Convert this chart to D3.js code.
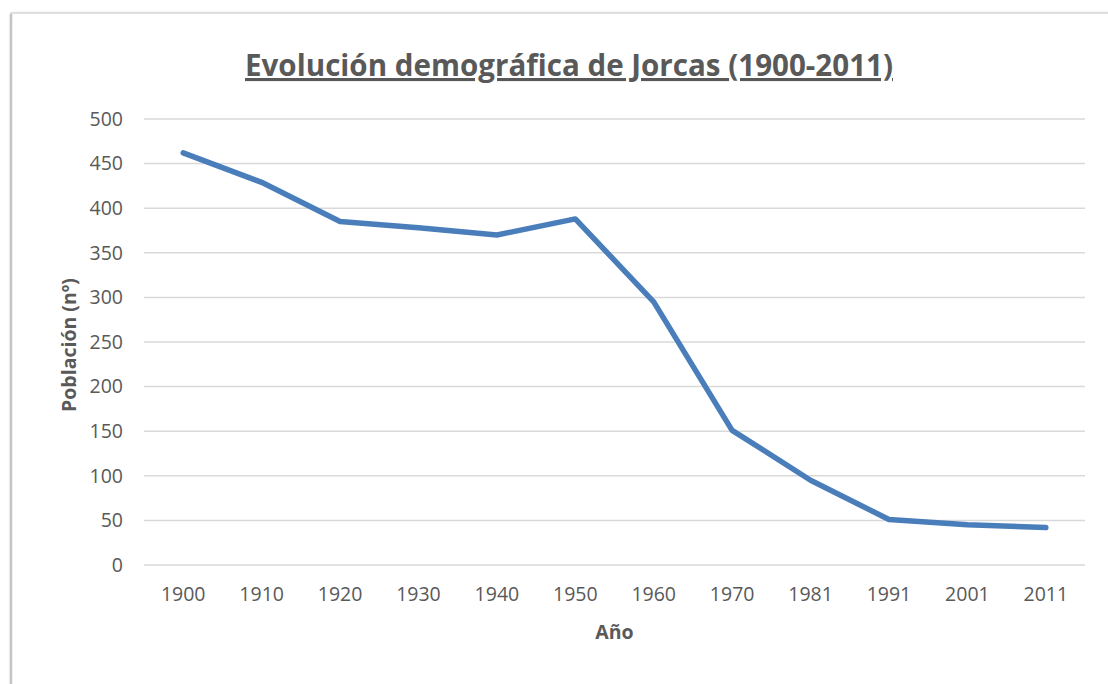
<!DOCTYPE html>
<html>
    <head>
        <meta charset="utf-8">
        <style>
            body { margin: 0; background: white; }
            text { font-family: "Open Sans", sans-serif; fill: #595959; }
            .grid line { stroke: #d9d9d9; stroke-width: 1.5; }
        </style>
    </head>
    <body>
        <div id="grafico"></div>
        <script src="https://cdn.jsdelivr.net/npm/d3@7"></script>
        <script>

//////////////////// datos ////////////////////
let anios = ['1900', '1910', '1920', '1930', '1940', '1950', '1960', '1970', '1981', '1991', '2001', '2011'];
let poblacion = [462, 429, 385, 378, 370, 388, 295, 151, 95, 51, 45, 42];
let ticks_y = [0, 50, 100, 150, 200, 250, 300, 350, 400, 450, 500];

let titulo = 'Evolución demográfica de Jorcas (1900-2011)';
let titulo_y = 'Población (nº)';
let titulo_x = 'Año';

//////////////////// tamaños ////////////////////
let W = 1108;
let H = 684;
let plot = { left: 144, right: 1085, top: 119, bottom: 565 };

let svg = d3.select('#grafico').append('svg')
    .attr('width', W)
    .attr('height', H);

// sombra del borde
let defs = svg.append('defs');
let filtro = defs.append('filter').attr('id', 'sombra')
    .attr('x', '-5%').attr('y', '-5%').attr('width', '110%').attr('height', '110%');
filtro.append('feDropShadow')
    .attr('dx', 2).attr('dy', 2).attr('stdDeviation', 2)
    .attr('flood-color', '#000').attr('flood-opacity', 0.25);

svg.append('rect')
    .attr('x', 11).attr('y', 13)
    .attr('width', W + 20).attr('height', H + 20)
    .attr('fill', 'white')
    .attr('stroke', '#d6d6d6')
    .attr('stroke-width', 1.5)
    .attr('filter', 'url(#sombra)');

// borde izquierdo mas marcado
svg.append('line')
    .attr('x1', 11).attr('x2', 11)
    .attr('y1', 14).attr('y2', H)
    .attr('stroke', '#c4c4c4')
    .attr('stroke-width', 2.5);

//////////////////// escalas ////////////////////
let x = d3.scaleBand()
    .domain(anios)
    .range([plot.left, plot.right]);

let y = d3.scaleLinear()
    .domain([0, 500])
    .range([plot.bottom, plot.top]);

// lineas de la cuadricula
svg.append('g')
    .classed('grid', true)
    .selectAll('line')
    .data(ticks_y)
    .join('line')
    .attr('x1', plot.left)
    .attr('x2', plot.right)
    .attr('y1', (d) => y(d))
    .attr('y2', (d) => y(d));

// eje y
let eje_y = svg.append('g')
    .attr('transform', `translate(${plot.left - 21}, 0)`)
    .call(d3.axisLeft(y).tickValues(ticks_y).tickSize(0).tickPadding(0));
eje_y.select('.domain').remove();
eje_y.selectAll('text')
    .attr('font-size', 19.5)
    .attr('font-family', '"Open Sans", sans-serif')
    .attr('fill', '#595959');

// eje x
let eje_x = svg.append('g')
    .attr('transform', `translate(0, ${plot.bottom})`)
    .call(d3.axisBottom(x).tickSize(0).tickPadding(22));
eje_x.select('.domain').remove();
eje_x.selectAll('text')
    .attr('font-size', 19.5)
    .attr('font-family', '"Open Sans", sans-serif')
    .attr('fill', '#595959');

//////////////////// linea ////////////////////
let linea = d3.line()
    .x((d, i) => x(anios[i]) + x.bandwidth() / 2)
    .y((d) => y(d));

svg.append('path')
    .datum(poblacion)
    .attr('d', linea)
    .attr('fill', 'none')
    .attr('stroke', '#4a7ebb')
    .attr('stroke-width', 5.5)
    .attr('stroke-linejoin', 'round')
    .attr('stroke-linecap', 'round');

//////////////////// textos ////////////////////
// titulo: mas alto y comprimido al ancho del original
svg.append('text')
    .attr('x', 245)
    .attr('y', 76)
    .attr('font-size', 31)
    .attr('font-weight', 'bold')
    .attr('text-decoration', 'underline')
    .attr('textLength', 648)
    .attr('lengthAdjust', 'spacingAndGlyphs')
    .text(titulo);

svg.append('text')
    .attr('transform', `translate(76, ${(plot.top + plot.bottom) / 2 + 3}) rotate(-90)`)
    .attr('text-anchor', 'middle')
    .attr('font-size', 19.5)
    .attr('font-weight', 'bold')
    .text(titulo_y);

svg.append('text')
    .attr('x', (plot.left + plot.right) / 2)
    .attr('y', 639)
    .attr('text-anchor', 'middle')
    .attr('font-size', 19.5)
    .attr('font-weight', 'bold')
    .text(titulo_x);

        </script>
    </body>
</html>
